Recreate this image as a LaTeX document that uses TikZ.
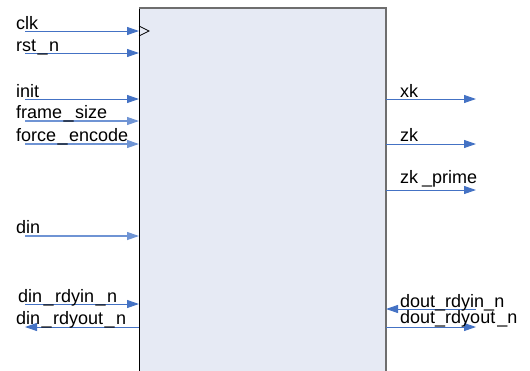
\documentclass[tikz,border=0pt]{standalone}
\usepackage{fontspec}
\setmainfont{Liberation Sans}
\usetikzlibrary{arrows.meta}
\definecolor{sig}{HTML}{4472C4}
\definecolor{siglight}{HTML}{6F94D4}
\definecolor{boxfill}{HTML}{E6EAF4}
\definecolor{edgegray}{HTML}{6E6E6E}
\newcommand{\usw}{\kern1.5pt\_\kern1.5pt}
\begin{document}
\begin{tikzpicture}[x=1pt,y=-1pt,
  sigline/.style={draw=sig,line width=1pt,-{Triangle[length=12pt,width=8pt]}},
  lightline/.style={sigline,draw=siglight,line width=1.2pt},
  lbl/.style={anchor=base west,inner sep=0pt,font=\fontsize{18}{20}\selectfont}]
\useasboundingbox (0,0) rectangle (530,370);
% block
\fill[boxfill] (139,8) rectangle (386,372);
\draw[black,line width=1pt] (139,372) -- (139,8);
\draw[edgegray,line width=1.6pt] (139,8) -- (386,8) -- (386,372);
\draw[line width=0.8pt] (139,26) -- (149,31) -- (139,36);
% left inputs
\coordinate (clkS) at (25,31);   \coordinate (clkE) at (139,31);
\coordinate (rstS) at (25,53);   \coordinate (rstE) at (139,53);
\coordinate (initS) at (25,99);  \coordinate (initE) at (139,99);
\coordinate (fsS) at (25,121);   \coordinate (fsE) at (139,121);
\coordinate (feS) at (25,144);   \coordinate (feE) at (139,144);
\coordinate (dinS) at (25,236);  \coordinate (dinE) at (139,236);
\coordinate (driS) at (25,304);  \coordinate (driE) at (139,304);
\coordinate (droS) at (139,327); \coordinate (droE) at (25,327);
\draw[sigline] (clkS) -- (clkE);
\draw[sigline] (rstS) -- (rstE);
\draw[sigline] (initS) -- (initE);
\draw[lightline] (fsS) -- (fsE);
\draw[lightline] (feS) -- (feE);
\draw[lightline] (dinS) -- (dinE);
\draw[sigline] (driS) -- (driE);
\draw[sigline] (droS) -- (droE);
\node[lbl] (clkL) at (16,29) {clk};
\node[lbl] (rstL) at (16,51) {rst\usw n};
\node[lbl] (initL) at (16,97) {init};
\node[lbl] (fsL) at (16,118.5) {frame\usw size};
\node[lbl] (feL) at (16,141.5) {force\usw encode};
\node[lbl] (dinL) at (16,233) {din};
\node[lbl] (driL) at (18,302.5) {din\usw rdyin\usw n};
\node[lbl] (droL) at (16,324) {din\usw rdyout\usw n};
% right outputs
\coordinate (xkS) at (386,99);   \coordinate (xkE) at (476,99);
\coordinate (zkS) at (386,144);  \coordinate (zkE) at (476,144);
\coordinate (zpS) at (386,190);  \coordinate (zpE) at (476,190);
\coordinate (odiS) at (476,309); \coordinate (odiE) at (386,309);
\coordinate (odoS) at (386,327); \coordinate (odoE) at (476,327);
\draw[sigline] (xkS) -- (xkE);
\draw[sigline] (zkS) -- (zkE);
\draw[sigline] (zpS) -- (zpE);
\draw[sigline] (odiS) -- (odiE);
\draw[sigline] (odoS) -- (odoE);
\node[lbl] (xkL) at (400,97) {xk};
\node[lbl] (zkL) at (400,141.5) {zk};
\node[lbl] (zpL) at (400,183) {zk\kern4pt\_prime};
\node[lbl] (odiL) at (400,307) {dout\_rdyin\_n};
\node[lbl] (odoL) at (400,323.5) {dout\_rdyout\kern2pt\_n};
\end{tikzpicture}
\end{document}
